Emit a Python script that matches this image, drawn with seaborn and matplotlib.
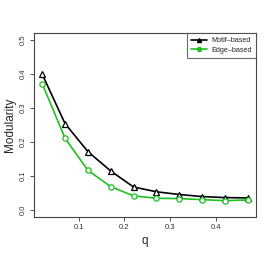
import pandas as pd
import matplotlib
matplotlib.use("Agg")
import matplotlib.pyplot as plt
import seaborn as sns

q = [0.02, 0.07, 0.12, 0.17, 0.22, 0.27, 0.32, 0.37, 0.42, 0.47]
motif = [0.399, 0.254, 0.172, 0.115, 0.068, 0.054, 0.046, 0.040, 0.037, 0.036]
edge = [0.371, 0.211, 0.117, 0.069, 0.042, 0.035, 0.034, 0.031, 0.028, 0.030]
series = ["Motif\u2013based", "Edge\u2013based"]

df = pd.DataFrame({
    "q": q * 2,
    "Modularity": motif + edge,
    "method": [series[0]] * len(q) + [series[1]] * len(q),
})

sns.set_style("ticks")
plt.rcParams["font.family"] = ["Liberation Sans", "DejaVu Sans"]

fig = plt.figure(figsize=(2.73, 2.62), dpi=100)
ax = fig.add_axes([34 / 273, 45 / 262, 222 / 273, 184 / 262])

sns.lineplot(data=df, x="q", y="Modularity", hue="method", style="method",
             palette={series[0]: "black", series[1]: "#1fc01f"},
             markers={series[0]: "^", series[1]: "o"}, dashes=False,
             markerfacecolor="white", markeredgewidth=0.9, markersize=3.8,
             linewidth=1.2, ax=ax)

for ln, c in zip(ax.lines, ["black", "#1fc01f"]):
    ln.set_markeredgecolor(c)
    ln.set_markerfacecolor("white")

ax.set_xlim(0.002, 0.488)
ax.set_ylim(-0.02, 0.52)
ax.set_xticks([0.1, 0.2, 0.3, 0.4])
ax.set_yticks([0.0, 0.1, 0.2, 0.3, 0.4, 0.5])
ax.set_xticklabels(["0.1", "0.2", "0.3", "0.4"])
ax.set_yticklabels(["0.0", "0.1", "0.2", "0.3", "0.4", "0.5"], rotation=90, va="center")
ax.tick_params(labelsize=5.5, length=3, width=0.6, colors="#333333", pad=2)
for s in ax.spines.values():
    s.set_linewidth(0.8)
    s.set_color("#444444")
ax.set_xlabel("q", fontsize=8.5, labelpad=3)
ax.set_ylabel("Modularity", fontsize=8.5, labelpad=3)

leg = ax.legend(loc="upper right", fontsize=5.2, frameon=True, fancybox=False,
                borderaxespad=0, handlelength=2.2, borderpad=0.6,
                labelspacing=0.3, handletextpad=0.6)
leg.get_frame().set_edgecolor("#444444")
leg.get_frame().set_linewidth(0.8)
for h in leg.legend_handles:
    h.set_markerfacecolor(h.get_color())
    h.set_markeredgecolor(h.get_color())
    h.set_markersize(3)

fig.savefig("out.png", dpi=100)
